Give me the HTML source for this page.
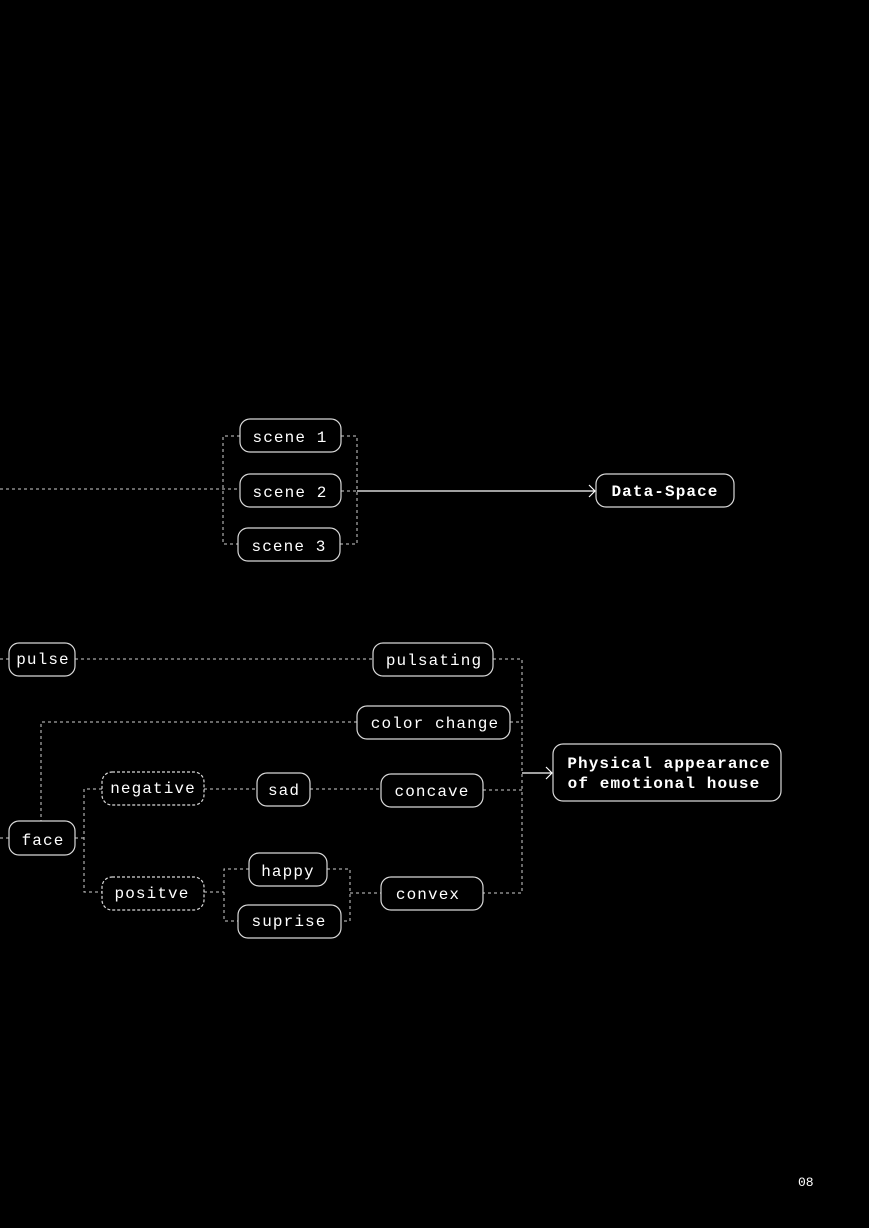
<!DOCTYPE html>
<html><head><style>
html,body{margin:0;padding:0;background:#000;}
svg{display:block}
text{font-family:"Liberation Mono",monospace;font-size:16px;fill:#fff;letter-spacing:1.1px}
.b{font-weight:bold}
</style></head><body>
<svg width="869" height="1228" viewBox="0 0 869 1228" xmlns="http://www.w3.org/2000/svg">
<rect width="869" height="1228" fill="#000"/>
<g fill="none" stroke="#cfcfcf" stroke-width="1" stroke-dasharray="3,3">
<!-- top -->
<path d="M0 489H240"/>
<path d="M240 436H223V544H238"/>
<path d="M341 436H357V544H340"/>
<path d="M341 491H357"/>
<!-- bottom -->
<path d="M0 659H9"/>
<path d="M75 659H373"/>
<path d="M493 659H522V893H483"/>
<path d="M510 722H522"/>
<path d="M483 790H522"/>
<path d="M357 722H41V821"/>
<path d="M0 838H9"/>
<path d="M75 838H84"/>
<path d="M102 789H84V892H102"/>
<path d="M204 789H257"/>
<path d="M310 789H381"/>
<path d="M204 892H224"/>
<path d="M249 869H224V921H238"/>
<path d="M327 869H350V921H341"/>
<path d="M350 893H381"/>
</g>
<g fill="none" stroke="#fff" stroke-width="1.2">
<path d="M357 491H595"/>
<path d="M589 485L595 491L589 497"/>
<path d="M522 773H552"/>
<path d="M546 767L552 773L546 779"/>
</g>
<g fill="#000" stroke="#d8d8d8" stroke-width="1.2">
<rect x="240" y="419" width="101" height="33" rx="10"/>
<rect x="240" y="474" width="101" height="33" rx="10"/>
<rect x="238" y="528" width="102" height="33" rx="10"/>
<rect x="596" y="474" width="138" height="33" rx="10"/>
<rect x="9" y="643" width="66" height="33" rx="10"/>
<rect x="373" y="643" width="120" height="33" rx="10"/>
<rect x="357" y="706" width="153" height="33" rx="10"/>
<rect x="9" y="821" width="66" height="34" rx="10"/>
<rect x="257" y="773" width="53" height="33" rx="10"/>
<rect x="381" y="774" width="102" height="33" rx="10"/>
<rect x="249" y="853" width="78" height="33" rx="10"/>
<rect x="238" y="905" width="103" height="33" rx="10"/>
<rect x="381" y="877" width="102" height="33" rx="10"/>
<rect x="553" y="744" width="228" height="57" rx="10"/>
</g>
<g fill="#000" stroke="#d8d8d8" stroke-width="1.2" stroke-dasharray="3,2">
<rect x="102" y="772" width="102" height="33" rx="10"/>
<rect x="102" y="877" width="102" height="33" rx="10"/>
</g>
<g text-anchor="middle">
<text x="290" y="442">scene 1</text>
<text x="290" y="497">scene 2</text>
<text x="289" y="551">scene 3</text>
<text x="665" y="496" class="b">Data-Space</text>
<text x="43" y="664">pulse</text>
<text x="434" y="665">pulsating</text>
<text x="435" y="728">color change</text>
<text x="43" y="845">face</text>
<text x="153" y="793">negative</text>
<text x="284" y="795">sad</text>
<text x="432" y="796">concave</text>
<text x="152" y="898">positve</text>
<text x="288" y="876">happy</text>
<text x="289" y="926">suprise</text>
<text x="428" y="899">convex</text>
<text x="669" y="768" class="b">Physical appearance</text>
<text x="664" y="788" class="b">of emotional house</text>
</g>
<text x="798" y="1186" style="font-size:13px;letter-spacing:0">08</text>
</svg>
</body></html>
